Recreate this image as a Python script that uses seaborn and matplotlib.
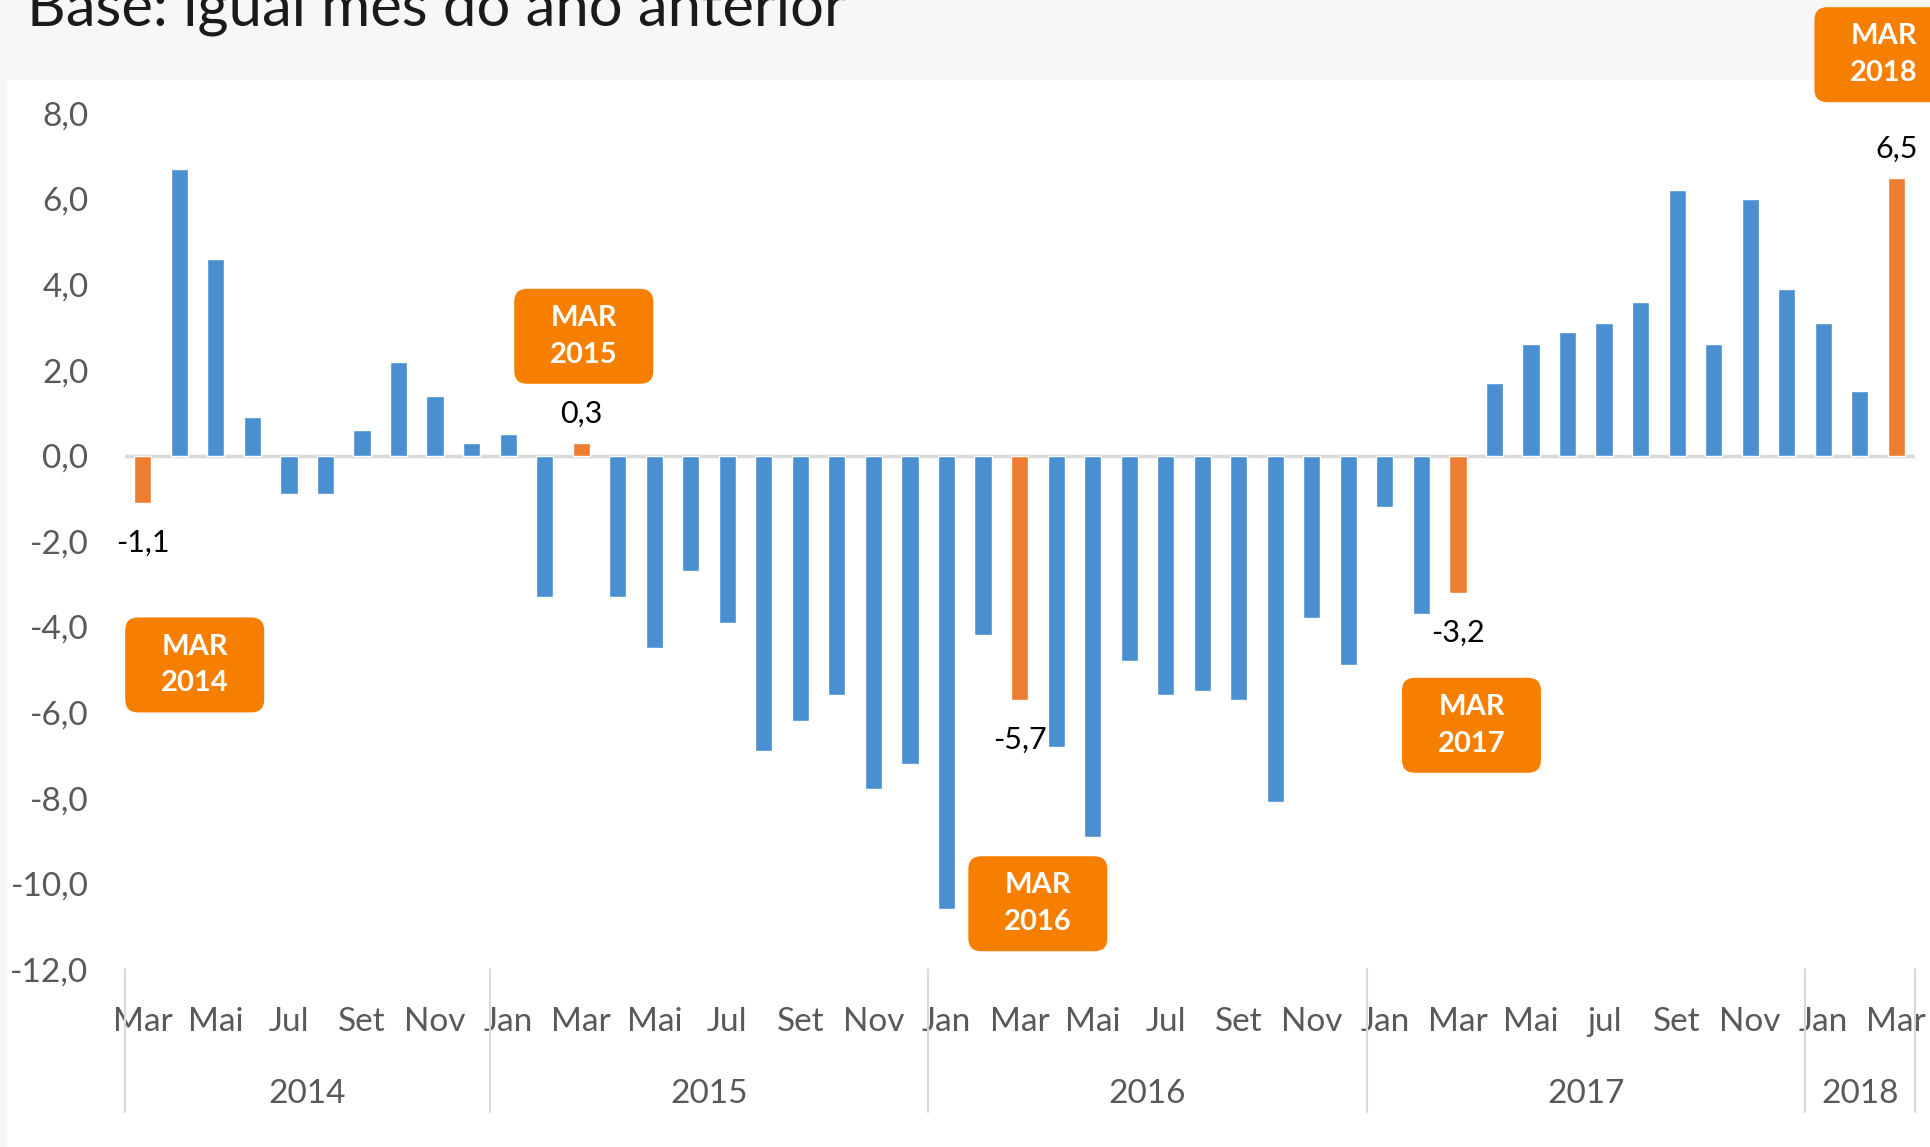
import matplotlib
matplotlib.use("Agg")
import matplotlib.pyplot as plt
import matplotlib.transforms as mtransforms
from matplotlib.patches import FancyBboxPatch, Rectangle
from matplotlib.ticker import FuncFormatter
import seaborn as sns
import pandas as pd
import numpy as np

# monthly variation, Mar/2014 .. Mar/2018
values = [
    -1.1, 6.7, 4.6, 0.9, -0.9, -0.9, 0.6, 2.2, 1.4, 0.3,                  # 2014 (Mar-Dez)
    0.5, -3.3, 0.3, -3.3, -4.5, -2.7, -3.9, -6.9, -6.2, -5.6, -7.8, -7.2,  # 2015
    -10.6, -4.2, -5.7, -6.8, -8.9, -4.8, -5.6, -5.5, -5.7, -8.1, -3.8, -4.9,  # 2016
    -1.2, -3.7, -3.2, 1.7, 2.6, 2.9, 3.1, 3.6, 6.2, 2.6, 6.0, 3.9,        # 2017
    3.1, 1.5, 6.5,                                                         # 2018
]
month_abbr = ["Jan", "Fev", "Mar", "Abr", "Mai", "Jun", "Jul", "Ago", "Set", "Out", "Nov", "Dez"]
start_month = 2  # Mar
tick_labels = ["Mar", "Mai", "Jul", "Set", "Nov",
               "Jan", "Mar", "Mai", "Jul", "Set", "Nov",
               "Jan", "Mar", "Mai", "Jul", "Set", "Nov",
               "Jan", "Mar", "Mai", "jul", "Set", "Nov",
               "Jan", "Mar"]
year_labels = ["2014", "2015", "2016", "2017", "2018"]
year_counts = [10, 12, 12, 12, 3]
box_years = ["2014", "2015", "2016", "2017", "2018"]
# callout box offsets from the top/bottom of each March bar (data units)
box_offsets = [(1.42, -3.79), (0.07, 2.49), (0.5, -4.77), (0.37, -3.1), (-0.34, 2.87)]

BLUE = "#4a8fd0"
ORANGE = "#ed7d31"
BOX = "#f77f00"
GRAY_TXT = "#595959"
LINE = "#d9d9d9"

months = [month_abbr[(start_month + i) % 12] for i in range(len(values))]
df = pd.DataFrame({
    "pos": range(len(values)),
    "valor": values,
    "tipo": ["mar" if m == "Mar" else "outro" for m in months],
})

sns.set_theme(style="white")
plt.rcParams["font.family"] = ["Lato", "DejaVu Sans"]

fig = plt.figure(figsize=(19.31, 11.47), dpi=100, facecolor="#f7f7f7")
fig.patches.append(Rectangle((7 / 1931, 0), 1, 1 - 80 / 1147, transform=fig.transFigure,
                             facecolor="white", edgecolor="none", zorder=-10))
fig.text(27 / 1931, 1 - 26 / 1147, "Base: igual mês do ano anterior", fontsize=43,
         ha="left", va="baseline", color="#1a1a1a", zorder=-5)

ax = fig.add_axes([0.0645, 0.155, 0.927, 0.7462])
ax.set_facecolor("none")

sns.barplot(data=df, x="pos", y="valor", hue="tipo", palette={"outro": BLUE, "mar": ORANGE},
            dodge=False, width=0.47, saturation=1, legend=False, ax=ax, zorder=2)

ax.set_xlim(-0.5, len(values) - 0.5)
ax.set_ylim(-12, 8)
ax.axhline(0, color=LINE, lw=2.5, zorder=1)

for s in ax.spines.values():
    s.set_visible(False)

ax.set_xticks(range(0, len(values), 2))
ax.set_xticklabels(tick_labels)
ax.set_yticks(np.arange(-12, 9, 2))
ax.yaxis.set_major_formatter(FuncFormatter(lambda v, p: f"{v:.1f}".replace(".", ",")))
ax.tick_params(axis="x", length=0, pad=27, labelsize=24, colors=GRAY_TXT)
ax.tick_params(axis="y", length=0, pad=26, labelsize=24, colors=GRAY_TXT)
ax.set_xlabel("")
ax.set_ylabel("")

# year groups below month labels
trans = mtransforms.blended_transform_factory(ax.transData, ax.transAxes)
edges = np.concatenate([[0], np.cumsum(year_counts)]) - 0.5
for b in edges:
    ax.plot([b, b], [0, -0.167], transform=trans, color=LINE, lw=1.5, clip_on=False)
for lab, a, b in zip(year_labels, edges[:-1], edges[1:]):
    ax.text((a + b) / 2, -0.146, lab, transform=trans, ha="center", va="center",
            fontsize=24, color=GRAY_TXT)

# March highlights: value labels + callout boxes
march_idx = [i for i, m in enumerate(months) if m == "Mar"]
for i, yr, (dx, dy) in zip(march_idx, box_years, box_offsets):
    v = values[i]
    ax.annotate(f"{v:.1f}".replace(".", ","), (i, v), xytext=(0, 21 if v >= 0 else -29),
                textcoords="offset points", ha="center", va="center", fontsize=22,
                color="black", annotation_clip=False)
    cx, cy = i + dx, v + dy
    tr = fig.dpi_scale_trans + mtransforms.ScaledTranslation(cx, cy, ax.transData)
    box = FancyBboxPatch((-0.695, -0.475), 1.39, 0.95, boxstyle="round,pad=0,rounding_size=0.13",
                         transform=tr, facecolor=BOX, edgecolor="none", clip_on=False, zorder=5)
    ax.add_patch(box)
    ax.text(cx, cy, f"MAR\n{yr}", ha="center", va="center", fontsize=21, fontweight="bold",
            color="white", linespacing=1.5, zorder=6, clip_on=False)

fig.savefig("out.png", dpi=100, facecolor=fig.get_facecolor())
